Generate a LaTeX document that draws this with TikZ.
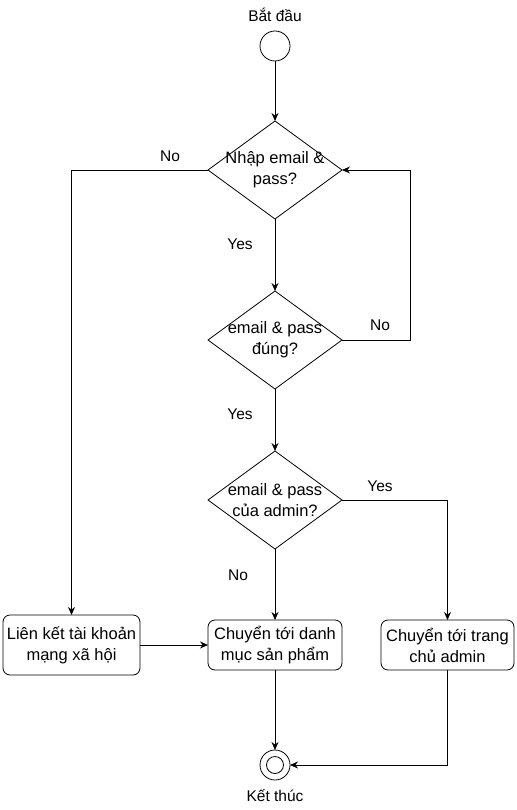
\documentclass[tikz,border=0pt]{standalone}
\usepackage{fontspec}
\setmainfont{Liberation Sans}
\usetikzlibrary{shapes.geometric,arrows.meta}
\begin{document}
\begin{tikzpicture}[x=1pt,y=-1pt,
  every node/.style={font=\fontsize{16.5}{21}\selectfont},
  lbl/.style={font=\fontsize{15.5}{19}\selectfont},
  decision/.style={draw,diamond,minimum width=134pt,minimum height=98pt,inner sep=0pt,outer sep=0pt},
  dtext/.style={align=center,inner sep=0pt},
  action/.style={draw,rounded corners=7pt,minimum width=134pt,minimum height=50pt,align=center,inner sep=0pt,outer sep=0pt},
  flow/.style={draw,line width=0.9pt,-{Stealth[length=8pt,width=7pt]}},
  line width=0.8pt]
\useasboundingbox (0,0) rectangle (516,810);
\fill[white] (0,0) rectangle (516,810);

% start and end
\node[draw,circle,minimum size=30pt,inner sep=0pt,outer sep=0pt] (start) at (275,46) {};
\node[lbl] (startlbl) at (275,15) {Bắt đầu};
\node[draw,circle,minimum size=30pt,inner sep=0pt,outer sep=0pt] (stop) at (275,765) {};
\node[draw,circle,minimum size=17pt,inner sep=0pt] (stopin) at (275,765) {};
\node[lbl] (stoplbl) at (275,796) {Kết thúc};

% decisions: outline and text
\node[decision] (d1) at (275,170) {};
\node[dtext] (d1t) at (d1) {Nhập email \&\\pass?};
\node[decision] (d2) at (275,340) {};
\node[dtext] (d2t) at (d2) {email \& pass\\đúng?};
\node[decision] (d3) at (275,500) {};
\node[dtext] (d3t) at (d3) {email \& pass\\của admin?};

% actions
\node[action,minimum width=137pt,minimum height=60pt] (social) at (71.5,645) {Liên kết tài khoản\\mạng xã hội};
\node[action] (catalog) at (275,645) {Chuyển tới danh\\mục sản phẩm};
\node[action,minimum width=133pt] (admin) at (447.5,645) {Chuyển tới trang\\chủ admin};

% connectors
\draw[flow] (start) -- (d1);
\draw[flow] (d1.west) -| (social.north);
\draw[flow] (d1) -- (d2);
\draw[flow] (d2.east) -- (410,340) |- (d1.east);
\draw[flow] (d2) -- (d3);
\draw[flow] (d3.east) -| (admin.north);
\draw[flow] (d3) -- (catalog);
\draw[flow] (social) -- (catalog);
\draw[flow] (catalog) -- (stop);
\draw[flow] (admin.south) |- (stop.east);

% edge labels
\node[lbl] (l1) at (170,156) {No};
\node[lbl] (l2) at (240,244) {Yes};
\node[lbl] (l3) at (380,325) {No};
\node[lbl] (l4) at (240,414) {Yes};
\node[lbl] (l5) at (380,486) {Yes};
\node[lbl] (l6) at (238,575) {No};
\end{tikzpicture}
\end{document}
